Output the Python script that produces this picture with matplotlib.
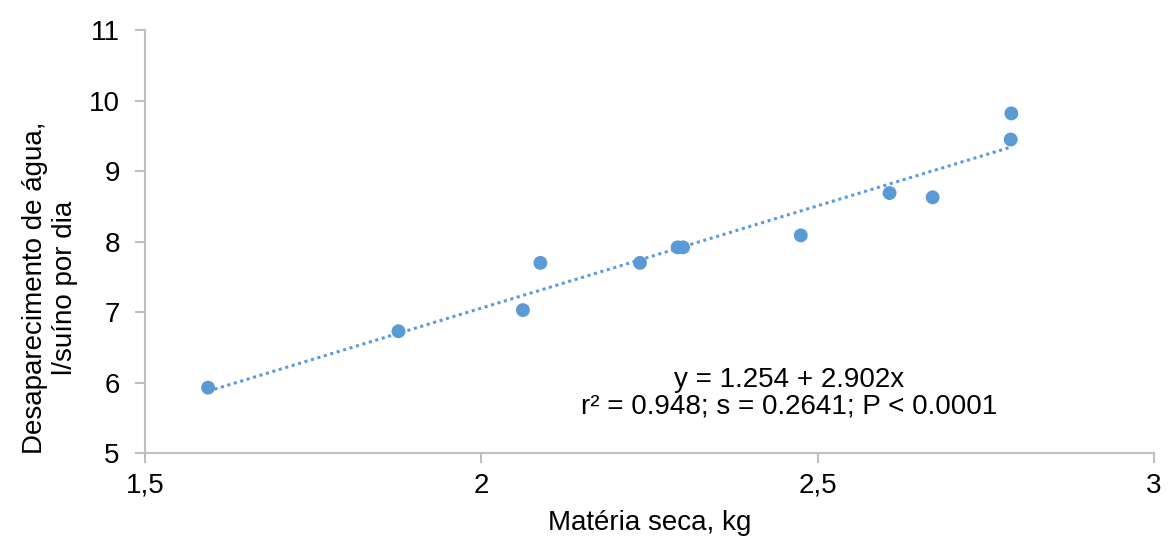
import matplotlib
matplotlib.use("Agg")
import matplotlib.pyplot as plt
import numpy as np

# dados
materia_seca = [1.594, 1.877, 2.062, 2.088, 2.236, 2.292, 2.300, 2.475, 2.607, 2.671, 2.787, 2.788]
agua = [5.93, 6.73, 7.03, 7.70, 7.70, 7.92, 7.92, 8.09, 8.69, 8.63, 9.45, 9.82]
intercepto = 1.254
inclinacao = 2.902
xticks = [1.5, 2, 2.5, 3]
xtick_labels = ["1,5", "2", "2,5", "3"]
yticks = [5, 6, 7, 8, 9, 10, 11]

plt.rcParams['font.family'] = ['Liberation Sans', 'DejaVu Sans']
cor = '#5B9BD5'
cinza = '#BFBFBF'
fs = 20

fig = plt.figure(figsize=(11.68, 5.5), dpi=100)
ax = fig.add_axes([0.124, 0.176, 0.864, 0.769])

# linha de tendência
xs = np.array([min(materia_seca), max(materia_seca)])
ax.plot(xs, intercepto + inclinacao * xs, linestyle=(0, (1, 1.2)), color=cor, linewidth=2.2)
ax.scatter(materia_seca, agua, s=100, color=cor, zorder=3, edgecolors='none')

ax.set_xlim(1.5, 3)
ax.set_ylim(5, 11)
ax.set_xticks(xticks)
ax.set_xticklabels(xtick_labels)
ax.set_yticks(yticks)
ax.tick_params(axis='both', labelsize=fs, color=cinza, length=7, width=1.5, direction='out')
ax.tick_params(axis='x', pad=7)
ax.tick_params(axis='y', pad=11)
for lado in ['top', 'right']:
    ax.spines[lado].set_visible(False)
for lado in ['left', 'bottom']:
    ax.spines[lado].set_color(cinza)
    ax.spines[lado].set_linewidth(1.5)

ax.set_xlabel("Matéria seca, kg", fontsize=fs, labelpad=8)
ax.set_ylabel("Desaparecimento de água,\nl/suíno por dia", fontsize=fs, linespacing=1.2)
ax.yaxis.set_label_coords(-0.066, 0.392)

ax.text(2.457, 5.85, "y = 1.254 + 2.902x\nr² = 0.948; s = 0.2641; P < 0.0001", fontsize=fs,
        ha='center', va='center', linespacing=1.05)

fig.savefig("out.png", dpi=100)
